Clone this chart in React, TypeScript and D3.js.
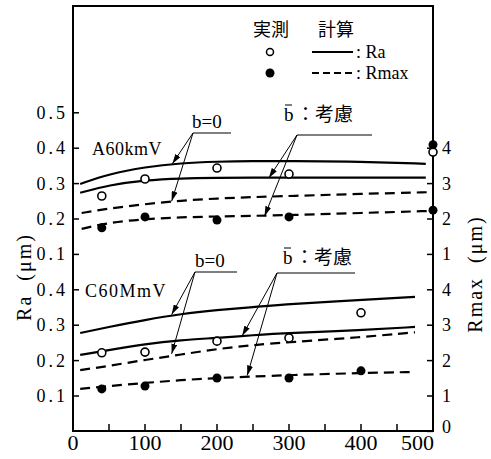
import React from 'react';
import * as d3 from 'd3';

// x: feed / length axis (no title in original)
const xTicks = [0, 100, 200, 300, 400, 500];
const xMinorTicks = [50, 150, 250, 350, 450];

// two stacked panels share one physical axis: upper panel is offset by 0.4 (Ra) / 4 (Rmax)
const raTicksLower = [0.1, 0.2, 0.3, 0.4];
const raTicksUpper = [0.1, 0.2, 0.3, 0.4, 0.5];
const rmaxTicksLower = [0, 1, 2, 3, 4];
const rmaxTicksUpper = [1, 2, 3, 4];

// calculated curves, A60kmV (upper panel)
const a60X = [10, 50, 100, 150, 200, 250, 300, 400, 490];
const a60RaB0 = [0.299, 0.327, 0.347, 0.358, 0.362, 0.364, 0.364, 0.362, 0.356];
const a60RaBbar = [0.274, 0.296, 0.31, 0.315, 0.316, 0.317, 0.317, 0.317, 0.317];
const a60RmaxX = [12, 50, 100, 150, 200, 250, 300, 400, 500];
const a60RmaxB0 = [2.17, 2.3, 2.42, 2.52, 2.58, 2.62, 2.65, 2.71, 2.76];
const a60RmaxBbar = [1.72, 1.9, 2.0, 2.05, 2.07, 2.09, 2.11, 2.17, 2.23];

// calculated curves, C60MmV (lower panel)
const c60X = [10, 50, 100, 150, 200, 250, 300, 400, 475];
const c60RaB0 = [0.278, 0.295, 0.315, 0.332, 0.343, 0.351, 0.36, 0.371, 0.38];
const c60RaBbar = [0.216, 0.23, 0.247, 0.258, 0.264, 0.272, 0.278, 0.286, 0.295];
const c60RmaxB0 = [1.73, 1.85, 2.02, 2.17, 2.33, 2.44, 2.52, 2.66, 2.8];
const c60RmaxBbar = [1.2, 1.28, 1.37, 1.45, 1.51, 1.55, 1.59, 1.65, 1.68];

// measured points [x, value]
const a60RaMeas: [number, number][] = [[40, 0.265], [100, 0.313], [200, 0.344], [300, 0.327], [500, 0.389]];
const a60RmaxMeas: [number, number][] = [[40, 1.75], [100, 2.06], [200, 1.97], [300, 2.06], [500, 2.25], [500, 4.1]];
const c60RaMeas: [number, number][] = [[40, 0.222], [100, 0.224], [200, 0.255], [300, 0.264], [400, 0.335]];
const c60RmaxMeas: [number, number][] = [[40, 1.2], [100, 1.28], [200, 1.51], [300, 1.51], [400, 1.71]];

const W = 491;
const H = 459;
const left = 73;
const right = 433;
const top = 6;
const bottom = 431;

const serif = '"Liberation Serif", "DejaVu Serif", serif';
const cjk = '"Noto Sans CJK JP", "Noto Sans", sans-serif';

export default function App() {
  const x = d3.scaleLinear().domain([0, 500]).range([left, right]);
  const y = d3.scaleLinear().domain([0, 0.9]).range([431.4, 112.8]);
  const UP = 0.4;
  const yRa = (v: number, off = 0) => y(v + off);
  const yRm = (v: number, off = 0) => y(v / 10 + off);

  const line = d3.line<[number, number]>().x(d => d[0]).y(d => d[1]).curve(d3.curveBasis);
  const path = (xs: number[], vs: number[], fy: (v: number) => number) =>
    line(xs.map((xv, i) => [x(xv), fy(vs[i])] as [number, number])) || '';

  const curves = [
    { d: path(a60X, a60RaB0, v => yRa(v, UP)), dash: false },
    { d: path(a60X, a60RaBbar, v => yRa(v, UP)), dash: false },
    { d: path(a60RmaxX, a60RmaxB0, v => yRm(v, UP)), dash: true },
    { d: path(a60RmaxX, a60RmaxBbar, v => yRm(v, UP)), dash: true },
    { d: path(c60X, c60RaB0, v => yRa(v)), dash: false },
    { d: path(c60X, c60RaBbar, v => yRa(v)), dash: false },
    { d: path(c60X, c60RmaxB0, v => yRm(v)), dash: true },
    { d: path(c60X, c60RmaxBbar, v => yRm(v)), dash: true },
  ];

  const openPts = [
    ...a60RaMeas.map(p => [x(p[0]), yRa(p[1], UP)]),
    ...c60RaMeas.map(p => [x(p[0]), yRa(p[1])]),
  ];
  const filledPts = [
    ...a60RmaxMeas.map(p => [x(p[0]), yRm(p[1], UP)]),
    ...c60RmaxMeas.map(p => [x(p[0]), yRm(p[1])]),
  ];

  // annotation callouts: label, leader origin, arrow tips (data coords)
  const callouts = [
    { text: 'b=0', bar: false, tx: 192, ty: 128, x0: 193, y0: 133, x1: 231,
      tips: [[x(138), yRa(0.356, UP)], [x(137), yRm(2.5, UP)]] },
    { text: 'b', bar: true, tx: 284, ty: 121, x0: 297, y0: 135, x1: 372,
      tips: [[x(272), yRa(0.316, UP)], [x(266), yRm(2.08, UP)]] },
    { text: 'b=0', bar: false, tx: 195, ty: 267, x0: 195, y0: 272, x1: 237,
      tips: [[x(137), yRa(0.33)], [x(137), yRm(2.19)]] },
    { text: 'b', bar: true, tx: 283, ty: 264, x0: 277, y0: 273, x1: 355,
      tips: [[x(235), yRa(0.27)], [x(242), yRm(1.58)]] },
  ];

  return (
    <svg width={W} height={H} style={{ position: 'absolute', left: 0, top: 0, background: '#fff' }}>
      <defs>
        <marker id="arr" viewBox="0 0 10 6" refX="10" refY="3" markerWidth="10" markerHeight="6"
          markerUnits="userSpaceOnUse" orient="auto">
          <path d="M0,0 L10,3 L0,6 z" fill="#000" />
        </marker>
      </defs>

      {/* frame */}
      <rect x={left} y={top} width={right - left} height={bottom - top} fill="none" stroke="#000" strokeWidth={2} />

      {/* x ticks */}
      {[...xTicks, ...xMinorTicks].filter(t => t > 0 && t < 500).map(t => (
        <line key={'xt' + t} x1={x(t)} x2={x(t)} y1={bottom} y2={bottom - 7} stroke="#000" strokeWidth={1.5} />
      ))}
      {xTicks.map(t => (
        <text key={'xl' + t} x={t === 500 ? x(t) + 1 : x(t)} y={450} textAnchor={t === 500 ? 'end' : 'middle'}
          fontFamily={serif} fontSize={22} fill="#000">{t}</text>
      ))}

      {/* left Ra ticks */}
      {[...raTicksLower.map(v => ({ v, py: yRa(v) })), ...raTicksUpper.map(v => ({ v, py: yRa(v, UP) }))].map((t, i) => (
        <g key={'ra' + i}>
          <line x1={left} x2={left + 6} y1={t.py} y2={t.py} stroke="#000" strokeWidth={1.5} />
          <text x={68} y={t.py + 6} textAnchor="end" fontFamily={serif} fontSize={18} letterSpacing={3} fill="#000">{t.v.toFixed(1)}</text>
        </g>
      ))}

      {/* right Rmax ticks */}
      {[...rmaxTicksLower.map(v => ({ v, py: yRm(v) })), ...rmaxTicksUpper.map(v => ({ v, py: yRm(v, UP) }))].map((t, i) => (
        <g key={'rm' + i}>
          <line x1={right} x2={right - 6} y1={t.py} y2={t.py} stroke="#000" strokeWidth={1.5} />
          <text x={442} y={t.v === 0 && i === 0 ? t.py + 2 : t.py + 6} fontFamily={serif} fontSize={18} fill="#000">{t.v}</text>
        </g>
      ))}

      {/* axis titles */}
      <text transform="translate(31,277) rotate(-90)" textAnchor="middle" fontFamily={serif} fontSize={20} letterSpacing={2} fill="#000" style={{ whiteSpace: 'pre' }}>Ra  (μm)</text>
      <text transform="translate(482,274) rotate(-90)" textAnchor="middle" fontFamily={serif} fontSize={20} letterSpacing={2} fill="#000" style={{ whiteSpace: 'pre' }}>Rmax  (μm)</text>

      {/* curves */}
      {curves.map((c, i) => (
        <path key={'c' + i} d={c.d} fill="none" stroke="#000" strokeWidth={2.2}
          strokeDasharray={c.dash ? '10 6' : undefined} />
      ))}

      {/* measured points */}
      {openPts.map((p, i) => (
        <circle key={'o' + i} cx={p[0]} cy={p[1]} r={4} fill="#fff" stroke="#000" strokeWidth={1.6} />
      ))}
      {filledPts.map((p, i) => (
        <circle key={'f' + i} cx={p[0]} cy={p[1]} r={4.5} fill="#000" />
      ))}

      {/* panel labels */}
      <text x={92} y={155} fontFamily={serif} fontSize={18} letterSpacing={0.5} fill="#000">A60kmV</text>
      <text x={85} y={297} fontFamily={serif} fontSize={18} letterSpacing={1.5} fill="#000">C60MmV</text>

      {/* callouts */}
      {callouts.map((c, i) => (
        <g key={'an' + i}>
          {c.bar ? (
            <g>
              <text x={c.tx} y={c.ty} fontFamily={serif} fontSize={19} fill="#000">b</text>
              <line x1={c.tx + 1} x2={c.tx + 8} y1={c.ty - 16} y2={c.ty - 16} stroke="#000" strokeWidth={1} />
              <text x={c.tx + 12} y={c.ty} fontFamily={cjk} fontSize={19} fill="#000">：考慮</text>
            </g>
          ) : (
            <text x={c.tx} y={c.ty} fontFamily={serif} fontSize={19} fill="#000">{c.text}</text>
          )}
          <line x1={c.x0} x2={c.x1} y1={c.y0} y2={c.y0} stroke="#000" strokeWidth={1} />
          {c.tips.map((t, j) => (
            <line key={j} x1={c.x0} y1={c.y0} x2={t[0]} y2={t[1]} stroke="#000" strokeWidth={1} markerEnd="url(#arr)" />
          ))}
        </g>
      ))}

      {/* legend */}
      <text x={253} y={36} fontFamily={cjk} fontSize={18} fill="#000">実測</text>
      <text x={318} y={36} fontFamily={cjk} fontSize={18} fill="#000">計算</text>
      <circle cx={270} cy={52} r={3.5} fill="#fff" stroke="#000" strokeWidth={1.5} />
      <circle cx={270} cy={73} r={4.5} fill="#000" />
      <line x1={312} x2={353} y1={52} y2={52} stroke="#000" strokeWidth={2} />
      <line x1={312} x2={353} y1={73} y2={73} stroke="#000" strokeWidth={2} strokeDasharray="7 4" />
      <text x={356} y={58} fontFamily={serif} fontSize={18} fill="#000">: Ra</text>
      <text x={356} y={79} fontFamily={serif} fontSize={18} fill="#000">: Rmax</text>
    </svg>
  );
}
